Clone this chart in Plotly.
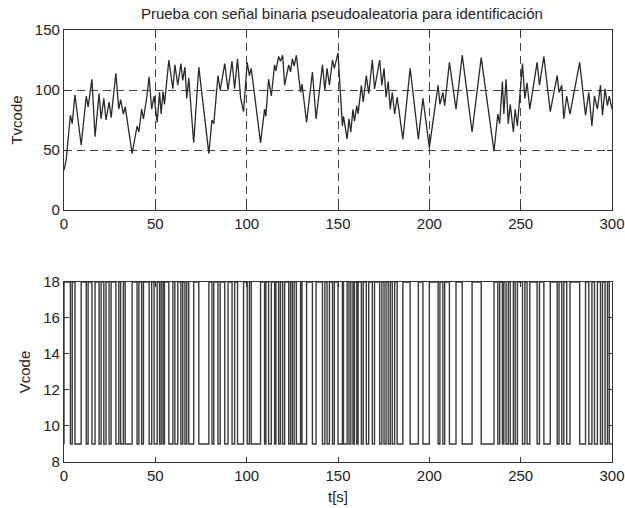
import plotly.graph_objects as go
from plotly.subplots import make_subplots

# ---- data ----
top_t = [0, 1.2, 3.5, 4.5, 6, 9.4, 12.2, 13.2, 15.3, 17, 19.2, 20.3, 21.8, 23, 24.7, 25.8, 28.4, 30, 31, 32.5,
         33.5, 37.3, 40, 41, 42.5, 43.5, 45.4, 46.6, 48, 49.3, 51, 52.3, 53.2, 54.2, 55, 57.4, 59.6, 60.7, 62.3,
         64, 65, 66.2, 67.2, 68.3, 71, 73.8, 79.3, 81, 82, 84.3, 85.5, 88, 89.8, 92, 93.4, 95, 96.7, 98.3, 100.3,
         101.5, 102.5, 107.6, 109.8, 110.5, 112, 113.5, 115.3, 116, 117.5, 118.5, 119.7, 120.8, 123, 124, 125,
         126, 127.2, 129.5, 130.3, 132.8, 136, 138, 141.5, 142.8, 144, 145.3, 147, 148, 150, 152.4, 153, 155,
         156, 157, 158.2, 159, 160.3, 161, 162.8, 163.8, 165.5, 166.8, 168.8, 170, 172.8, 174, 175.2, 176.3,
         177.5, 178.6, 179.7, 181, 182.4, 185.5, 189.5, 194, 196.5, 200, 204.8, 205.8, 207.4, 208.4, 211,
         214.6, 218, 223.4, 228.4, 235.4, 237.5, 238.5, 240, 240.8, 242, 243.2, 244.3, 246, 247, 248.2, 251,
         252.3, 253.5, 255, 259, 260.3, 262.7, 266.2, 270, 271, 272.5, 273.6, 275.2, 277, 282.3, 285.5, 287.3,
         289, 290.4, 292, 293.7, 294.8, 296.2, 297.5, 298.5, 300]
top_v = [33, 42, 79, 72, 96, 54, 95, 86, 109, 61, 97, 76, 93, 75, 90, 77, 114, 84, 92, 80,
         86, 47, 70, 65, 84, 76, 95, 111, 84, 95, 73, 98, 80, 99, 88, 125, 101, 121, 104,
         122, 108, 119, 93, 110, 56, 119, 47, 75, 72, 112, 100, 122, 100, 124, 101, 126, 93, 82, 123,
         112, 118, 56, 84, 78, 109, 95, 121, 116, 128, 124, 129, 104, 121, 115, 126,
         120, 129, 98, 105, 73, 115, 76, 121, 100, 118, 104, 125, 118, 131, 70, 78, 59,
         76, 65, 84, 74, 87, 80, 104, 90, 112, 97, 125, 101, 125, 104, 118, 94,
         107, 84, 98, 80, 94, 59, 118, 59, 93, 52, 104, 88, 98, 87, 123,
         84, 129, 65, 127, 49, 80, 72, 107, 80, 109, 72, 88, 65, 84, 70, 122,
         93, 106, 84, 123, 104, 128, 82, 112, 98, 104, 76, 95, 80, 123, 79, 98,
         70, 95, 84, 104, 79, 101, 87, 95, 84]

# PRBS: intervals where Vcode is at the high level
prbs_high_start = [0, 4.5, 9.4, 13.2, 17, 20.3, 23, 25.8, 30, 32.5, 37.3, 41, 43.5, 48, 51, 53.2, 55, 59.6,
                   62.3, 65, 67.2, 71, 79.3, 82, 85.5, 89.8, 93.4, 98.3, 101.5, 107.6, 110.5, 113.5, 116,
                   118.5, 120.8, 124, 126, 129.5, 132.8, 138, 142.8, 145.3, 148, 152.4, 155, 157, 159, 161,
                   163.8, 166.8, 170, 174, 176.3, 178.6, 181, 185.5, 194, 200, 205.8, 208.4, 214.6, 223.4,
                   235.4, 238.5, 240.8, 243.2, 246, 248.2, 252.3, 255, 260.3, 266.2, 271, 273.6, 277, 285.5,
                   289, 292, 294.8, 297.5]
prbs_high_end = [3.5, 6, 12.2, 15.3, 19.2, 21.8, 24.7, 28.4, 31, 33.5, 40, 42.5, 46.6, 49.3, 52.3, 54.2, 57.4,
                 60.7, 64, 66.2, 68.3, 73.8, 81, 84.3, 88, 92, 95, 100.3, 102.5, 109.8, 112, 115.3, 117.5,
                 119.7, 123, 125, 127.2, 130.3, 136, 141.5, 144, 147, 150, 153, 156, 158.2, 160.3, 162.8,
                 165.5, 168.8, 172.8, 175.2, 177.5, 179.7, 182.4, 189.5, 196.5, 204.8, 207.4, 211, 218, 228.4,
                 237.5, 240, 242, 244.3, 247, 251, 253.5, 259, 262.7, 270, 272.5, 275.2, 282.3, 287.3,
                 290.4, 293.7, 296.2, 298.5]
prbs_low, prbs_high = 9, 18
t_end = 300

x_ticks = [0, 50, 100, 150, 200, 250, 300]
top_y_ticks = [0, 50, 100, 150]
bot_y_ticks = [8, 10, 12, 14, 16, 18]

# build the step signal from the intervals
bx, by = [], []
for s, e in zip(prbs_high_start, prbs_high_end):
    bx += [s, s, e, e]
    by += [prbs_low, prbs_high, prbs_high, prbs_low]
bx.append(t_end)
by.append(prbs_low)

FONT = "Liberation Sans, Arial, Helvetica, sans-serif"
INK = "#222222"
FS = 15

fig = make_subplots(rows=2, cols=1, vertical_spacing=0.1666)
fig.add_trace(go.Scatter(x=top_t, y=top_v, mode="lines",
                         line=dict(color="#2a2a2a", width=1.3), showlegend=False), row=1, col=1)
fig.add_trace(go.Scatter(x=bx, y=by, mode="lines",
                         line=dict(color="#3a3a3a", width=1.4), showlegend=False), row=2, col=1)

axis_common = dict(showline=True, linecolor="#333333", linewidth=1.3, mirror="ticks",
                   ticks="inside", ticklen=5, tickcolor="#333333", zeroline=False,
                   automargin=False,
                   tickfont=dict(family=FONT, size=FS, color=INK))
grid = dict(showgrid=True, gridcolor="#444444", griddash="8px,5px", gridwidth=1.3)

fig.update_xaxes(range=[0, 300], tickvals=x_ticks, **axis_common)
fig.update_xaxes(row=1, col=1, **grid)
fig.update_xaxes(showgrid=False, row=2, col=1,
                 title=dict(text="t[s]", font=dict(family=FONT, size=FS, color=INK), standoff=8))
fig.update_yaxes(range=[0, 150], tickvals=top_y_ticks, row=1, col=1,
                 title=dict(text="Tvcode", font=dict(family=FONT, size=FS, color=INK), standoff=8),
                 **grid, **axis_common)
fig.update_yaxes(range=[8, 18], tickvals=bot_y_ticks, showgrid=False, row=2, col=1,
                 title=dict(text="Vcode", font=dict(family=FONT, size=FS, color=INK), standoff=8),
                 **axis_common)

fig.update_layout(
    width=625, height=508,
    margin=dict(l=64, r=13, t=30, b=46),
    paper_bgcolor="white", plot_bgcolor="white",
    title=dict(text="Prueba con señal binaria pseudoaleatoria para identificación",
               x=0.547, xanchor="center", y=0.972, yanchor="middle",
               font=dict(family=FONT, size=FS, color=INK)),
)
fig.update_layout(yaxis=dict(domain=[0.5833, 1.0]), yaxis2=dict(domain=[0.0, 0.4167]))

fig.write_html("out.html", config={"displayModeBar": False},
               post_script="document.body.style.margin='0';document.body.style.padding='0';")
